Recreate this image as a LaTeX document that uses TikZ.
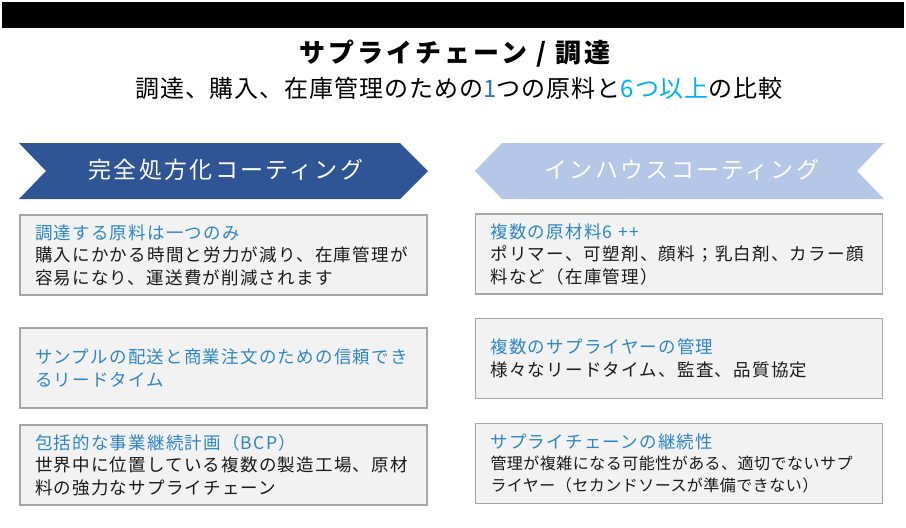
\documentclass[tikz,border=0pt]{standalone}
\usepackage{fontspec}
\setmainfont{Noto Sans CJK JP}
\definecolor{darkchev}{HTML}{2F5597}
\definecolor{lightchev}{HTML}{B4C7E7}
\definecolor{boxfill}{HTML}{F2F2F2}
\definecolor{boxline}{HTML}{A6A6A6}
\definecolor{headblue}{HTML}{2E86C8}
\definecolor{onecol}{HTML}{2E75B6}
\definecolor{sixcol}{HTML}{00B0F0}
\definecolor{bodytext}{HTML}{1A1A1A}
\begin{document}
\begin{tikzpicture}[x=1pt,y=-1pt,
  infobox/.style={draw=boxline, line width=1.6pt, fill=boxfill, rectangle,
    minimum height=80pt, text width=377pt, inner xsep=15pt, inner ysep=4pt,
    align=left, text=bodytext, font=\fontsize{17.5}{22.5}\selectfont\addfontfeature{LetterSpace=7}},
  chevtext/.style={text=white, font=\fontsize{23}{26}\selectfont\addfontfeature{LetterSpace=10}, inner sep=0pt}]
\useasboundingbox (0,0) rectangle (906,528);
\fill[black] (2,2) rectangle (904,28);
\node[font=\fontsize{26}{30}\selectfont\bfseries\addfontfeature{LetterSpace=12}, inner sep=0pt] (title) at (455,54) {サプライチェーン / 調達};
\node[font=\fontsize{24}{28}\selectfont\addfontfeature{LetterSpace=4}, inner sep=0pt] (subtitle) at (459,88)
  {調達、購入、在庫管理のための{\color{onecol}1}つの原料と{\color{sixcol}6つ以上}の比較};
% chevrons
\fill[darkchev] (19,143) -- (400,143) -- (428,171) -- (400,199) -- (19,199) -- (46,171) -- cycle;
\node[chevtext] (lefthead) at (226,170) {完全処方化コーティング};
\fill[lightchev] (475,171) -- (502,143) -- (884,143) -- (857,171) -- (884,199) -- (502,199) -- cycle;
\node[chevtext] (righthead) at (682,170) {インハウスコーティング};
% left boxes
\node[infobox] (l1) at (223.5,255) {{\color{headblue}調達する原料は一つのみ}\\購入にかかる時間と労力が減り、在庫管理が\\容易になり、運送費が削減されます};
\node[infobox] (l2) at (223.5,368) {{\color{headblue}サンプルの配送と商業注文のための信頼でき\\るリードタイム}};
\node[infobox] (l3) at (223.5,465) {{\color{headblue}包括的な事業継続計画（BCP）}\\世界中に位置している複数の製造工場、原材\\料の強力なサプライチェーン};
% right boxes
\node[infobox] (r1) at (679,254) {{\color{headblue}複数の原材料6 ++}\\ポリマー、可塑剤、顔料；乳白剤、カラー顔\\料など（在庫管理）};
\node[infobox] (r2) at (679,358.5) {{\color{headblue}複数のサプライヤーの管理}\\様々なリードタイム、監査、品質協定};
\node[infobox] (r3) at (679,463.5) {{\color{headblue}サプライチェーンの継続性}\\{\fontsize{16}{21}\selectfont\addfontfeature{LetterSpace=3}管理が複雑になる可能性がある、適切でないサプ\\ライヤー（セカンドソースが準備できない）}};
\end{tikzpicture}
\end{document}
